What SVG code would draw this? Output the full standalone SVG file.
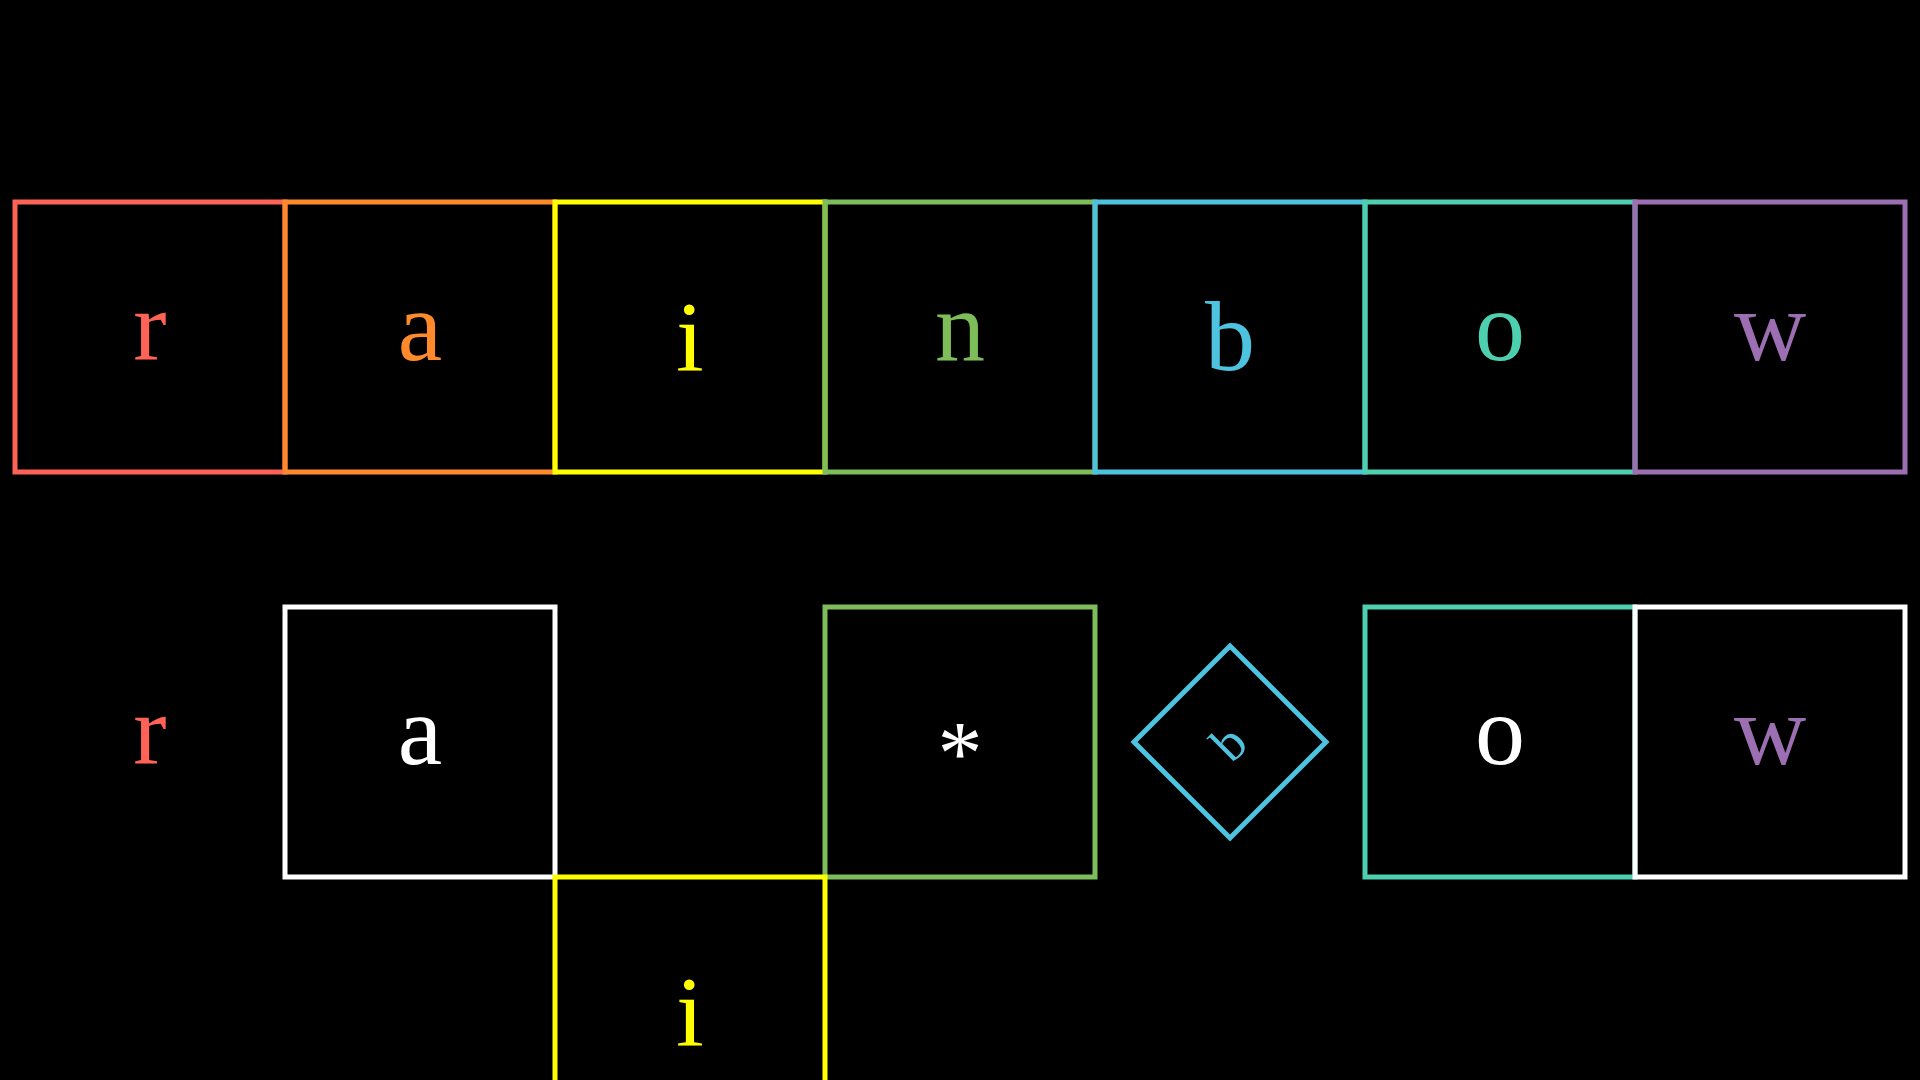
<svg xmlns="http://www.w3.org/2000/svg" width="1920" height="1080" viewBox="0 0 1920 1080">
<style>
.box{fill:none;stroke-width:5}
.t{font-family:"Liberation Serif","Times New Roman",serif;font-size:100px;text-anchor:middle}
.red{fill:#FF6355}.sred{stroke:#FF6355}
.org{fill:#FF8A2B}.sorg{stroke:#FF8A2B}
.yel{fill:#FFFF00}.syel{stroke:#FFFF00}
.grn{fill:#7DBE5A}.sgrn{stroke:#7DBE5A}
.blu{fill:#4DC3DF}.sblu{stroke:#4DC3DF}
.tea{fill:#4DCFB0}.stea{stroke:#4DCFB0}
.pur{fill:#9C6FB2}.spur{stroke:#9C6FB2}
.wht{fill:#FFFFFF}.swht{stroke:#FFFFFF}
</style>
<rect width="1920" height="1080" fill="#000"/>
<g id="row1">
<g id="r1-r"><rect class="box sred" x="15" y="202" width="270" height="270"/><text class="t red" x="150" y="360">r</text></g>
<g id="r1-a"><rect class="box sorg" x="285" y="202" width="270" height="270"/><text class="t org" x="420" y="360">a</text></g>
<g id="r1-i"><rect class="box syel" x="555" y="202" width="270" height="270"/><text class="t yel" x="690" y="370">i</text></g>
<g id="r1-n"><rect class="box sgrn" x="825" y="202" width="270" height="270"/><text class="t grn" x="960" y="360">n</text></g>
<g id="r1-b"><rect class="box sblu" x="1095" y="202" width="270" height="270"/><text class="t blu" x="1230" y="370">b</text></g>
<g id="r1-o"><rect class="box stea" x="1365" y="202" width="270" height="270"/><text class="t tea" x="1500" y="360">o</text></g>
<g id="r1-w"><rect class="box spur" x="1635" y="202" width="270" height="270"/><text class="t pur" x="1770" y="360">w</text></g>
</g>
<g id="row2">
<g id="r2-r"><text class="t red" x="150" y="764">r</text></g>
<g id="r2-a"><rect class="box swht" x="285" y="607" width="270" height="270"/><text class="t wht" x="420" y="764">a</text></g>
<g id="r2-star"><rect class="box sgrn" x="825" y="607" width="270" height="270"/><text class="t wht" style="font-size:90px" x="960" y="784">*</text></g>
<g id="r2-i"><rect class="box syel" x="555" y="877" width="270" height="270"/><text class="t yel" x="690" y="1045">i</text></g>
<g id="r2-b"><polygon class="box sblu" points="1230,646 1326,742 1230,838 1134,742"/><text class="t blu" style="font-size:52px" transform="translate(1229,743) rotate(-45)" x="0" y="17">b</text></g>
<g id="r2-o"><rect class="box stea" x="1365" y="607" width="270" height="270"/><text class="t wht" x="1500" y="764">o</text></g>
<g id="r2-w"><rect class="box swht" x="1635" y="607" width="270" height="270"/><text class="t pur" x="1770" y="764">w</text></g>
</g>
<g id="connectors"/>
</svg>
